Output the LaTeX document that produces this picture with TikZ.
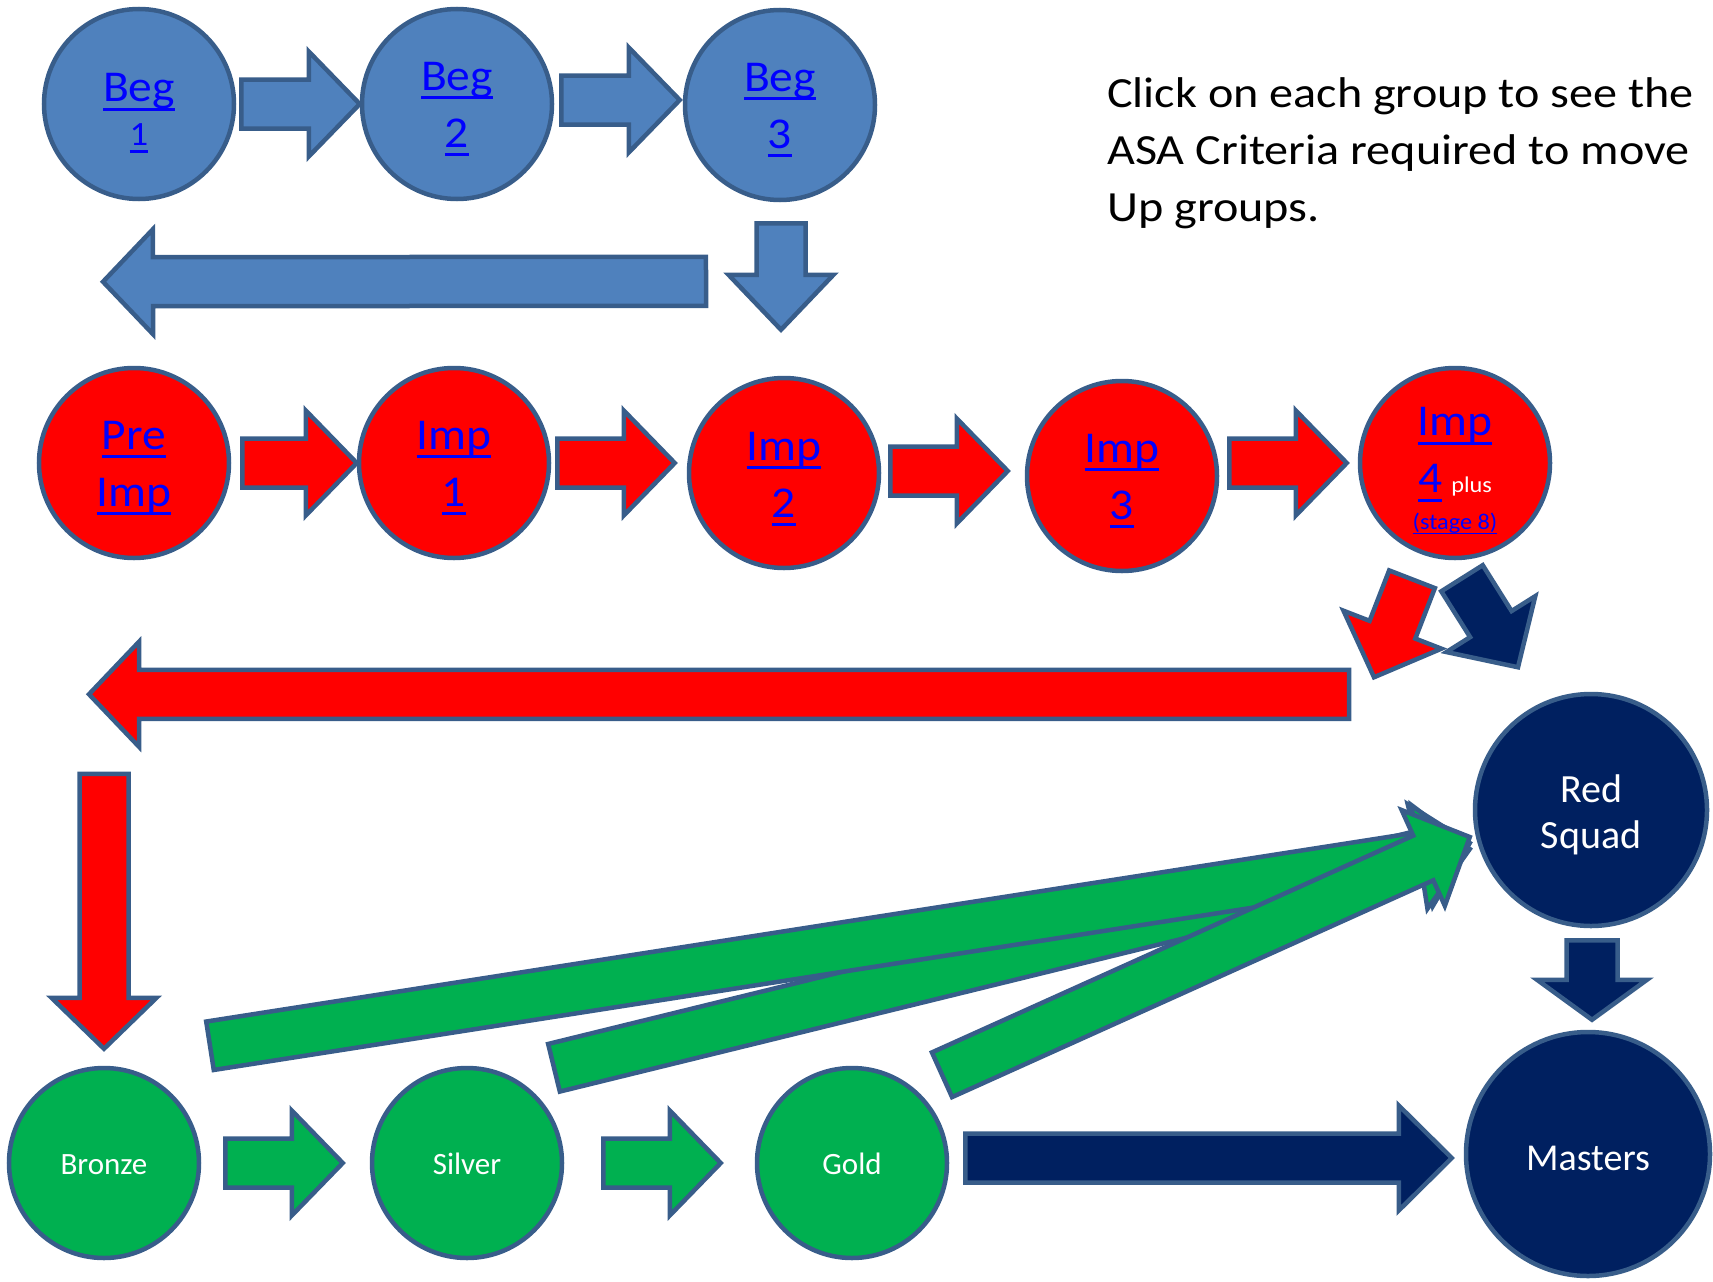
\documentclass[tikz,border=0pt]{standalone}
\usepackage{fontspec}
\setmainfont{Carlito}
\newfontfamily\linkfont[FakeStretch=1.08]{Carlito}
\newfontfamily\notefont[FakeStretch=1.12]{Carlito}
\usetikzlibrary{calc}

\definecolor{begblue}{RGB}{79,129,189}
\definecolor{impred}{RGB}{255,0,0}
\definecolor{compgreen}{RGB}{0,176,80}
\definecolor{squadnavy}{RGB}{0,32,96}
\definecolor{edgeblue}{RGB}{56,93,138}
\definecolor{linkblue}{RGB}{0,0,255}

% underlined link text
\newcommand\lnk[1]{\setbox0\hbox{#1}\rlap{\rule[-0.2em]{\wd0}{0.065em}}\box0\relax}

\tikzset{every picture/.style={line width=4.5pt}}
\tikzset{
  shaftw/.store in=\fatsw, headw/.store in=\fathw, headl/.store in=\fathl,
  shaftw=24.5pt, headw=52.5pt, headl=51pt,
  fatedge/.style={draw=edgeblue, line join=miter},
  grp/.style={circle, draw=edgeblue, inner sep=0pt, minimum size=190pt},
  lnktext/.style={align=center, inner sep=0pt, text=linkblue, font=\linkfont\fontsize{44}{57}\selectfont},
  wtext/.style={align=center, inner sep=0pt, text=white, font=\fontsize{#1}{46}\selectfont},
}

% block arrow from #3 to the tip #4, filled with #2
\newcommand\fatarrow[4][]{%
  \begin{scope}[#1]
  \coordinate (fa1) at (#3);
  \coordinate (fa2) at (#4);
  \coordinate (fa3) at ($(fa2)!\fathl!(fa1)$);
  \draw[fatedge, fill=#2] ($(fa1)!\fatsw!90:(fa2)$) -- ($(fa3)!\fatsw!-90:(fa1)$)
    -- ($(fa3)!\fathw!-90:(fa1)$) -- (fa2) -- ($(fa3)!\fathw!90:(fa1)$)
    -- ($(fa3)!\fatsw!90:(fa1)$) -- ($(fa1)!\fatsw!-90:(fa2)$) -- cycle;
  \end{scope}}

\begin{document}
\begin{tikzpicture}[x=1pt,y=1pt,yscale=-1,xscale=1]
\useasboundingbox (0,0) rectangle (1713,1282);

%Shape: Circles, beginners
\node[grp, fill=begblue] (beg1) at (139,104) {};
\node[grp, fill=begblue] (beg2) at (457,104) {};
\node[grp, fill=begblue] (beg3) at (780,105) {};

%Shape: Circles, improvers
\node[grp, fill=impred] (preimp) at (134,463) {};
\node[grp, fill=impred] (imp1) at (454,463) {};
\node[grp, fill=impred] (imp2) at (784,473) {};
\node[grp, fill=impred] (imp3) at (1122,476) {};
\node[grp, fill=impred] (imp4) at (1455,463) {};

%Shape: Circles, awards and squads
\node[grp, fill=compgreen] (bronze) at (104,1163) {};
\node[grp, fill=compgreen] (silver) at (467,1163) {};
\node[grp, fill=compgreen] (gold) at (852,1163) {};
\node[grp, fill=squadnavy, minimum size=232pt] (squad) at (1591,810) {};
\node[grp, fill=squadnavy, minimum size=244pt] (masters) at (1588,1154) {};

%Shape: Block Arrows, beginners
\fatarrow{begblue}{$(beg1.east)+(5,0)$}{beg2.west}
\fatarrow{begblue}{$(beg2.east)+(7,-4)$}{$(beg3.west)+(-3,-5)$}
\fatarrow[headl=55pt]{begblue}{$(beg3.south)+(1,21)$}{$(imp2.north)+(-3,-46)$}
\fatarrow[headl=50pt]{begblue}{$(beg3.south)+(-74,79)$}{$(preimp.north)+(-31,-84)$}

%Shape: Block Arrows, improvers
\fatarrow{impred}{$(preimp.east)+(11,0)$}{imp1.west}
\fatarrow{impred}{$(imp1.east)+(6,0)$}{$(imp2.west)+(-12,-10)$}
\fatarrow{impred}{$(imp2.east)+(9,-2)$}{$(imp3.west)+(-17,-5)$}
\fatarrow{impred}{$(imp3.east)+(10,-13)$}{$(imp4.west)+(-11,0)$}
\fatarrow{impred}{$(imp4.south)+(-43,19)$}{$(imp4.south)+(-81,117)$}
\fatarrow{squadnavy}{$(imp4.south)+(7,18)$}{$(imp4.south)+(63,107)$}
\fatarrow[headl=50pt]{impred}{$(imp4.south)+(-106,134)$}{$(preimp.south)+(-45,134)$}
\fatarrow{impred}{$(bronze.north)+(0,-292)$}{$(bronze.north)+(0,-17)$}

%Shape: Block Arrows, awards
\fatarrow{compgreen}{$(bronze.east)+(24,0)$}{$(silver.west)+(-27,0)$}
\fatarrow{compgreen}{$(silver.east)+(39,0)$}{$(gold.west)+(-34,0)$}
\fatarrow{compgreen}{$(silver.north)+(87,2)$}{$(squad.west)+(-3,33)$}
\fatarrow{compgreen}{$(bronze.north)+(106,-20)$}{$(squad.west)+(-3,39)$}
\fatarrow{compgreen}{$(gold.north)+(90,9)$}{$(squad.west)+(-3,27)$}
\fatarrow[headl=53pt]{squadnavy}{$(gold.east)+(16,-5)$}{$(masters.west)+(-12,4)$}
\fatarrow[shaftw=25.5pt, headw=55pt, headl=40pt]{squadnavy}{$(squad.south)+(1,12)$}{$(masters.north)+(4,-10)$}

% Text Nodes
\node[lnktext] (beg1txt) at ($(beg1)+(0,9)$) {\lnk{Beg}\\[-13pt]{\fontsize{34}{40}\selectfont\lnk{1}}};
\node[lnktext] (beg2txt) at ($(beg2)+(0,5)$) {\lnk{Beg}\\\lnk{2}};
\node[lnktext] (beg3txt) at ($(beg3)+(0,5)$) {\lnk{Beg}\\\lnk{3}};
\node[lnktext] (preimptxt) at ($(preimp)+(0,5)$) {\lnk{Pre}\\\lnk{Imp}};
\node[lnktext] (imp1txt) at ($(imp1)+(0,5)$) {\lnk{Imp}\\\lnk{1}};
\node[lnktext] (imp2txt) at ($(imp2)+(0,6)$) {\lnk{Imp}\\\lnk{2}};
\node[lnktext] (imp3txt) at ($(imp3)+(0,5)$) {\lnk{Imp}\\\lnk{3}};
\node[lnktext] (imp4txt) at ($(imp4)+(0,8)$) {\lnk{Imp}\\\lnk{4}\hspace{9pt}{\color{white}\fontsize{22.5}{26}\selectfont plus}\\[-20pt]{\fontsize{22.5}{26}\selectfont\lnk{(stage 8)}}};
\node[wtext=31] (bronzetxt) at ($(bronze)+(0,2)$) {Bronze};
\node[wtext=31] (silvertxt) at ($(silver)+(0,1)$) {Silver};
\node[wtext=31] (goldtxt) at ($(gold)+(0,1)$) {Gold};
\node[wtext=40] (squadtxt) at ($(squad)+(0,5)$) {Red\\Squad};
\node[wtext=38] (masterstxt) at ($(masters)+(0,4)$) {Masters};

% Text Node
\node[anchor=north west, inner sep=0pt, align=left, font=\notefont\fontsize{43}{57}\selectfont] (note) at (1105,75) {Click on each group to see the\\ASA Criteria required to move\\Up groups.};

\end{tikzpicture}
\end{document}
